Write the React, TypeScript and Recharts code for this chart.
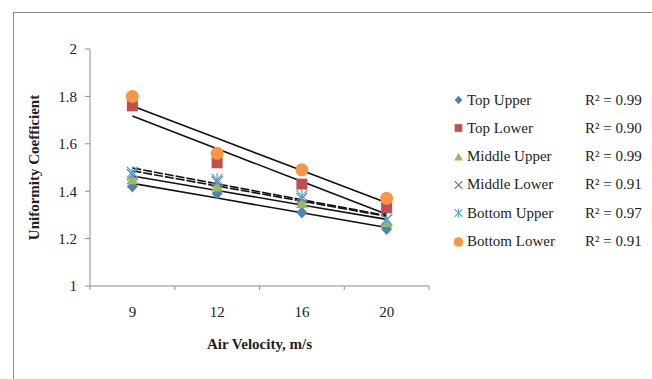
import React from 'react';
import { ComposedChart, Line, XAxis, YAxis } from 'recharts';

const velocities = ['9', '12', '16', '20'];
const topUpper = [1.42, 1.39, 1.31, 1.24];
const topLower = [1.76, 1.52, 1.43, 1.33];
const middleUpper = [1.45, 1.42, 1.35, 1.27];
const middleLower = [1.47, 1.44, 1.37, 1.28];
const bottomUpper = [1.48, 1.45, 1.38, 1.28];
const bottomLower = [1.80, 1.56, 1.49, 1.37];
const seriesNames = ['Top Upper', 'Top Lower', 'Middle Upper', 'Middle Lower', 'Bottom Upper', 'Bottom Lower'];
const rSquared = ['0.99', '0.90', '0.99', '0.91', '0.97', '0.91'];
const yTicks = [1, 1.2, 1.4, 1.6, 1.8, 2];

const W = 652;
const H = 379;
const M = { top: 49, right: 223, bottom: 63, left: 50 };
const Y_W = 40;
const PLOT_W = W - M.left - M.right - Y_W;
const BAND = PLOT_W / velocities.length;
const FONT = '"Liberation Serif", "Times New Roman", serif';

const allSeries = [topUpper, topLower, middleUpper, middleLower, bottomUpper, bottomLower];
const keys = ['tu', 'tl', 'mu', 'ml', 'bu', 'bl'];
const colors = ['#4F81BD', '#C0504D', '#9BBB59', '#8064A2', '#4BACC6', '#F79646'];
const fitDash = ['', '', '', '9 2', '9 2', ''];

// linear trendline over category index, like Excel does for line charts
function fit(ys: number[]) {
  const n = ys.length;
  const mx = (n - 1) / 2;
  const my = ys.reduce((a, b) => a + b, 0) / n;
  let sxy = 0, sxx = 0;
  ys.forEach((y, i) => { sxy += (i - mx) * (y - my); sxx += (i - mx) ** 2; });
  const k = sxy / sxx;
  return ys.map((_, i) => my + k * (i - mx));
}

const data = velocities.map((v, i) => {
  const row: Record<string, number | string> = { v };
  allSeries.forEach((s, j) => {
    row[keys[j]] = s[i];
    row[keys[j] + 'Fit'] = fit(s)[i];
  });
  return row;
});

function Marker({ kind, cx, cy, s = 1 }: { kind: number; cx: number; cy: number; s?: number }) {
  const c = colors[kind];
  const d = 5.5 * s;
  switch (kind) {
    case 0:
      return <polygon points={`${cx},${cy - d - 0.5} ${cx + d},${cy} ${cx},${cy + d + 0.5} ${cx - d},${cy}`} fill={c} />;
    case 1:
      return <rect x={cx - d} y={cy - d} width={2 * d} height={2 * d} fill={c} />;
    case 2:
      return <polygon points={`${cx},${cy - d - 0.5} ${cx + d + 0.5},${cy + d * 0.9} ${cx - d - 0.5},${cy + d * 0.9}`} fill={c} />;
    case 3:
      return (
        <g stroke={c} strokeWidth={1.2}>
          <line x1={cx - d} y1={cy - d} x2={cx + d} y2={cy + d} />
          <line x1={cx - d} y1={cy + d} x2={cx + d} y2={cy - d} />
        </g>
      );
    case 4:
      return (
        <g stroke={c} strokeWidth={1.2}>
          <line x1={cx - d} y1={cy - d} x2={cx + d} y2={cy + d} />
          <line x1={cx - d} y1={cy + d} x2={cx + d} y2={cy - d} />
          <line x1={cx} y1={cy - d - 0.5} x2={cx} y2={cy + d + 0.5} />
        </g>
      );
    default:
      return <circle cx={cx} cy={cy} r={d + 1} fill={c} />;
  }
}

function XTick(props: any) {
  const { x, y, payload, index } = props;
  return (
    <g>
      <line x1={x - BAND / 2} y1={y} x2={x - BAND / 2} y2={y + 4} stroke="#8c8c8c" />
      {index === velocities.length - 1 && (
        <line x1={x + BAND / 2} y1={y} x2={x + BAND / 2} y2={y + 4} stroke="#8c8c8c" />
      )}
      <text x={x} y={y + 31} textAnchor="middle" fontFamily={FONT} fontSize={15} fill="#222">
        {payload.value}
      </text>
    </g>
  );
}

export default function App() {
  return (
    <div style={{ position: 'absolute', left: 0, top: 0, width: W, height: H, background: '#fff', overflow: 'hidden' }}>
      <div style={{ position: 'absolute', left: 13, top: 12, width: 700, height: 420, border: '1px solid #8a8a8a' }} />
      <ComposedChart width={W} height={H} data={data} margin={M} style={{ position: 'absolute', left: 0, top: 0 }}>
        <XAxis
          dataKey="v"
          padding={{ left: BAND / 2, right: BAND / 2 }}
          tickSize={0}
          tickMargin={0}
          tick={<XTick />}
          axisLine={{ stroke: '#8c8c8c' }}
          tickLine={false}
          height={30}
          interval={0}
          label={{ value: 'Air Velocity, m/s', position: 'bottom', offset: 22, style: { fontFamily: FONT, fontSize: 15, fontWeight: 'bold', fill: '#222' } }}
        />
        <YAxis
          domain={[1, 2]}
          ticks={yTicks}
          width={Y_W}
          tickSize={5}
          tickMargin={8}
          axisLine={{ stroke: '#8c8c8c' }}
          tickLine={{ stroke: '#8c8c8c' }}
          tick={{ fontFamily: FONT, fontSize: 15, fill: '#222' }}
          label={{ value: 'Uniformity Coefficient', angle: -90, position: 'left', offset: 16, style: { fontFamily: FONT, fontSize: 15, fontWeight: 'bold', fill: '#222', textAnchor: 'middle' } }}
        />
        {keys.map((k, j) => (
          <Line
            key={k}
            dataKey={k}
            stroke="none"
            isAnimationActive={false}
            activeDot={false}
            dot={(p: any) => <Marker key={`${k}-${p.index}`} kind={j} cx={p.cx} cy={p.cy} />}
          />
        ))}
        {keys.map((k, j) => (
          <Line
            key={k + 'Fit'}
            dataKey={k + 'Fit'}
            stroke="#111"
            strokeWidth={1.6}
            strokeDasharray={fitDash[j] || undefined}
            dot={false}
            activeDot={false}
            isAnimationActive={false}
          />
        ))}
      </ComposedChart>
      {seriesNames.map((name, i) => (
        <div key={name} style={{ position: 'absolute', left: 453, top: 91 + i * 28.3, height: 18, display: 'flex', alignItems: 'center', fontFamily: FONT, fontSize: 15, color: '#222', whiteSpace: 'nowrap' }}>
          <svg width={11} height={14} style={{ marginRight: 3 }}>
            <Marker kind={i} cx={5.5} cy={7} s={0.7} />
          </svg>
          {name}
          <span style={{ position: 'absolute', left: 132 }}>R² = {rSquared[i]}</span>
        </div>
      ))}
    </div>
  );
}
